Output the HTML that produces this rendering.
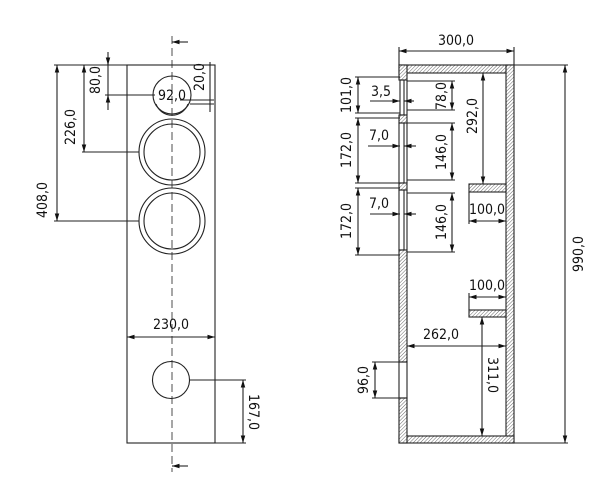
<!DOCTYPE html>
<html><head><meta charset="utf-8"><style>
html,body{margin:0;padding:0;background:#fff;}
svg{display:block;}
text{font-family:"DejaVu Sans Condensed","Liberation Sans",sans-serif;font-size:14px;fill:#111;}
</style></head><body>
<svg width="600" height="495" viewBox="0 0 600 495" xmlns="http://www.w3.org/2000/svg">
<defs>
<pattern id="h" patternUnits="userSpaceOnUse" width="2.5" height="2.5" patternTransform="rotate(45)">
<rect width="2.5" height="2.5" fill="#fff"/><line x1="0" y1="0" x2="0" y2="2.5" stroke="#444" stroke-width="0.8"/>
</pattern>
<marker id="a" viewBox="0 0 10 10" refX="10" refY="5" markerWidth="7" markerHeight="7" orient="auto-start-reverse"><path d="M0,2 L10,5 L0,8 z" fill="#111"/></marker>
</defs>
<g stroke="#222" stroke-width="1.1" fill="none">
<rect x="127" y="65" width="88" height="378"/>
<line x1="172" y1="36" x2="172" y2="472" stroke-dasharray="8,4" stroke-width="0.8"/>
<line x1="172" y1="42" x2="188" y2="42" marker-start="url(#a)"/>
<line x1="172" y1="466" x2="188" y2="466" marker-start="url(#a)"/>
<circle cx="172" cy="95" r="19"/>
<path d="M156,104 A17,17 0 0 0 188,104"/>
<circle cx="172" cy="152" r="33"/><circle cx="172" cy="152" r="28"/>
<circle cx="172" cy="221" r="33"/><circle cx="172" cy="221" r="28"/>
<circle cx="171" cy="380" r="18.5"/>
<line x1="54" y1="65" x2="127" y2="65"/>
<line x1="54" y1="221" x2="139" y2="221"/>
<line x1="57" y1="65" x2="57" y2="221" marker-start="url(#a)" marker-end="url(#a)"/>
<line x1="82" y1="152" x2="139" y2="152"/>
<line x1="84" y1="65" x2="84" y2="152" marker-start="url(#a)" marker-end="url(#a)"/>
<line x1="108" y1="52" x2="108" y2="110"/>
<path d="M108,57 L108,65" marker-end="url(#a)"/>
<path d="M108,103 L108,95" marker-end="url(#a)"/>
<line x1="105" y1="95" x2="155" y2="95"/>
<line x1="210" y1="62" x2="210" y2="112"/>
<line x1="180" y1="100" x2="214" y2="100"/>
<line x1="190" y1="104" x2="214" y2="104"/>
<line x1="127" y1="337" x2="215" y2="337" marker-start="url(#a)" marker-end="url(#a)"/>
<line x1="190" y1="380" x2="246" y2="380"/>
<line x1="215" y1="443" x2="246" y2="443"/>
<line x1="243" y1="380" x2="243" y2="443" marker-start="url(#a)" marker-end="url(#a)"/>
<rect x="399" y="65" width="115" height="8" fill="url(#h)"/>
<rect x="506" y="65" width="8" height="378" fill="url(#h)"/>
<rect x="399" y="436" width="115" height="7" fill="url(#h)"/>
<rect x="399" y="65" width="8" height="15" fill="url(#h)"/>
<rect x="399" y="115" width="8" height="8" fill="url(#h)"/>
<rect x="399" y="183" width="8" height="7" fill="url(#h)"/>
<rect x="399" y="250" width="8" height="112" fill="url(#h)"/>
<rect x="399" y="398" width="8" height="45" fill="url(#h)"/>
<rect x="399" y="362" width="8" height="36"/>
<rect x="400" y="80" width="4" height="35"/><line x1="407" y1="80" x2="407" y2="115"/>
<rect x="399" y="123" width="5" height="60"/><line x1="407" y1="123" x2="407" y2="183"/>
<rect x="399" y="190" width="5" height="60"/><line x1="407" y1="190" x2="407" y2="250"/>
<rect x="469" y="184" width="37" height="8" fill="url(#h)"/>
<rect x="469" y="310" width="37" height="7" fill="url(#h)"/>
<line x1="399" y1="47" x2="399" y2="65"/><line x1="514" y1="47" x2="514" y2="65"/>
<line x1="399" y1="51" x2="514" y2="51" marker-start="url(#a)" marker-end="url(#a)"/>
<line x1="514" y1="65" x2="568" y2="65"/><line x1="514" y1="443" x2="568" y2="443"/>
<line x1="565" y1="65" x2="565" y2="443" marker-start="url(#a)" marker-end="url(#a)"/>
<line x1="355" y1="77" x2="400" y2="77"/><line x1="355" y1="113" x2="400" y2="113"/>
<line x1="358" y1="77" x2="358" y2="113" marker-start="url(#a)" marker-end="url(#a)"/>
<line x1="355" y1="118" x2="400" y2="118"/><line x1="355" y1="183" x2="400" y2="183"/>
<line x1="358" y1="118" x2="358" y2="183" marker-start="url(#a)" marker-end="url(#a)"/>
<line x1="355" y1="188" x2="400" y2="188"/><line x1="355" y1="255" x2="400" y2="255"/>
<line x1="358" y1="188" x2="358" y2="255" marker-start="url(#a)" marker-end="url(#a)"/>
<path d="M370,101 L400,101" marker-end="url(#a)"/><path d="M414,101 L404,101" marker-end="url(#a)"/>
<path d="M368,146 L400,146" marker-end="url(#a)"/><path d="M416,146 L404,146" marker-end="url(#a)"/>
<path d="M370,214 L400,214" marker-end="url(#a)"/><path d="M416,214 L404,214" marker-end="url(#a)"/>
<line x1="407" y1="81" x2="455" y2="81"/><line x1="407" y1="110" x2="455" y2="110"/>
<line x1="452" y1="81" x2="452" y2="110" marker-start="url(#a)" marker-end="url(#a)"/>
<line x1="407" y1="123" x2="455" y2="123"/><line x1="407" y1="180" x2="455" y2="180"/>
<line x1="452" y1="123" x2="452" y2="180" marker-start="url(#a)" marker-end="url(#a)"/>
<line x1="407" y1="193" x2="455" y2="193"/><line x1="407" y1="252" x2="455" y2="252"/>
<line x1="452" y1="193" x2="452" y2="252" marker-start="url(#a)" marker-end="url(#a)"/>
<line x1="483" y1="73" x2="483" y2="184" marker-start="url(#a)" marker-end="url(#a)"/>
<line x1="469" y1="192" x2="469" y2="224"/>
<line x1="469" y1="221" x2="506" y2="221" marker-start="url(#a)" marker-end="url(#a)"/>
<line x1="469" y1="293" x2="469" y2="310"/>
<line x1="469" y1="297" x2="506" y2="297" marker-start="url(#a)" marker-end="url(#a)"/>
<line x1="407" y1="346" x2="506" y2="346" marker-start="url(#a)" marker-end="url(#a)"/>
<line x1="482" y1="317" x2="482" y2="436" marker-start="url(#a)" marker-end="url(#a)"/>
<line x1="372" y1="362" x2="399" y2="362"/><line x1="372" y1="398" x2="399" y2="398"/>
<line x1="375" y1="362" x2="375" y2="398" marker-start="url(#a)" marker-end="url(#a)"/>
</g>
<g>
<text x="172" y="100" text-anchor="middle">92,0</text>
<text x="171" y="329" text-anchor="middle">230,0</text>
<text transform="translate(47,200) rotate(-90)" text-anchor="middle">408,0</text>
<text transform="translate(75,127) rotate(-90)" text-anchor="middle">226,0</text>
<text transform="translate(100,80) rotate(-90)" text-anchor="middle">80,0</text>
<text transform="translate(204,77) rotate(-90)" text-anchor="middle">20,0</text>
<text transform="translate(249,412) rotate(90)" text-anchor="middle">167,0</text>
<text x="456" y="45" text-anchor="middle">300,0</text>
<text transform="translate(583,254) rotate(-90)" text-anchor="middle">990,0</text>
<text transform="translate(351,95) rotate(-90)" text-anchor="middle">101,0</text>
<text transform="translate(351,150) rotate(-90)" text-anchor="middle">172,0</text>
<text transform="translate(351,221) rotate(-90)" text-anchor="middle">172,0</text>
<text x="381" y="96" text-anchor="middle">3,5</text>
<text x="379" y="140" text-anchor="middle">7,0</text>
<text x="379" y="208" text-anchor="middle">7,0</text>
<text transform="translate(446,96) rotate(-90)" text-anchor="middle">78,0</text>
<text transform="translate(446,152) rotate(-90)" text-anchor="middle">146,0</text>
<text transform="translate(446,222) rotate(-90)" text-anchor="middle">146,0</text>
<text transform="translate(477,116) rotate(-90)" text-anchor="middle">292,0</text>
<text x="487" y="214" text-anchor="middle">100,0</text>
<text x="487" y="290" text-anchor="middle">100,0</text>
<text x="441" y="339" text-anchor="middle">262,0</text>
<text transform="translate(488,375) rotate(90)" text-anchor="middle">311,0</text>
<text transform="translate(368,380) rotate(-90)" text-anchor="middle">96,0</text>
</g>
</svg>
</body></html>
